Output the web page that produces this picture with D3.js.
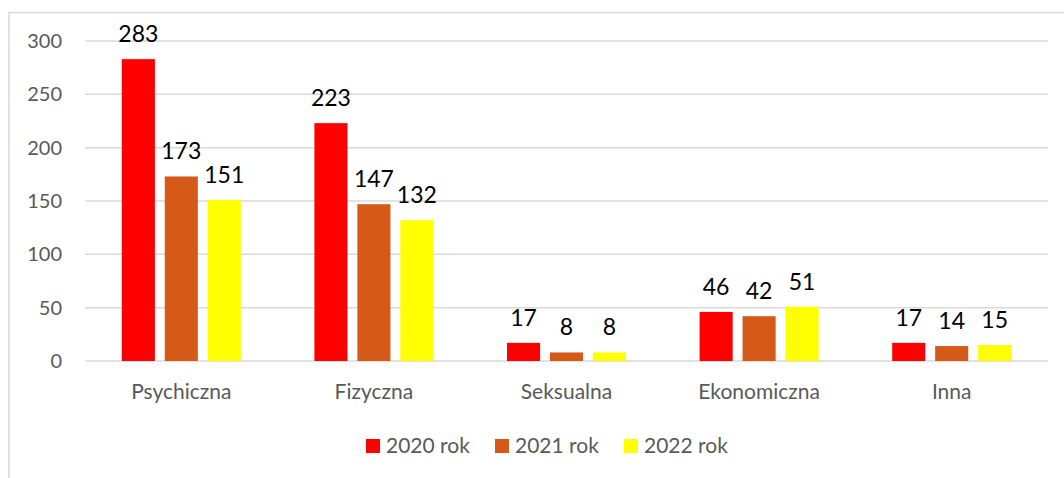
<!DOCTYPE html>
<html>
<head>
<meta charset="utf-8">
<script src="https://cdn.jsdelivr.net/npm/d3@7"></script>
<style>
  body { margin: 0; background: #fff; }
  svg { display: block; font-family: Lato, "Open Sans", sans-serif; }
</style>
</head>
<body>
<svg id="chart"></svg>
<script>
var categories = ["Psychiczna", "Fizyczna", "Seksualna", "Ekonomiczna", "Inna"];
var seriesNames = ["2020 rok", "2021 rok", "2022 rok"];
var seriesColors = ["#FF0000", "#D55A18", "#FFFF00"];
var values2020 = [283, 223, 17, 46, 17];
var values2021 = [173, 147, 8, 42, 14];
var values2022 = [151, 132, 8, 51, 15];
var yTicks = [0, 50, 100, 150, 200, 250, 300];

var width = 1064, height = 478;
var plot = {left: 85, right: 1048, top: 41, bottom: 361};

var svg = d3.select("#chart").attr("width", width).attr("height", height);

// outer chart frame (goes past the picture on right and bottom)
svg.append("rect")
  .attr("x", 9).attr("y", 12.5)
  .attr("width", 1200).attr("height", 600)
  .attr("fill", "none").attr("stroke", "#D9D9D9").attr("stroke-width", 1.5);

var y = d3.scaleLinear().domain([0, 300]).range([plot.bottom, plot.top]);

var x0 = d3.scaleBand().domain(categories).range([plot.left, plot.right]).padding(0);
var gap = x0.bandwidth() - 119;
var x1 = d3.scaleBand().domain(seriesNames)
  .range([gap / 2, x0.bandwidth() - gap / 2]).paddingInner(0.23);

// gridlines
svg.append("g").selectAll("line").data(yTicks).join("line")
  .attr("x1", plot.left).attr("x2", plot.right)
  .attr("y1", d => y(d)).attr("y2", d => y(d))
  .attr("stroke", "#D9D9D9").attr("stroke-width", 1.5);

// y axis labels
svg.append("g").selectAll("text").data(yTicks).join("text")
  .attr("x", 62).attr("y", d => y(d) + 7)
  .attr("text-anchor", "end")
  .attr("fill", "#595959").attr("font-size", 20)
  .text(d => d);

var rows = categories.map(function(c, i) {
  return {cat: c, vals: [values2020[i], values2021[i], values2022[i]]};
});

var groups = svg.append("g").selectAll("g").data(rows).join("g")
  .attr("transform", d => "translate(" + x0(d.cat) + ",0)");

groups.selectAll("rect").data(d => d.vals.map((v, k) => ({v: v, k: k}))).join("rect")
  .attr("x", d => x1(seriesNames[d.k]))
  .attr("y", d => y(d.v))
  .attr("width", x1.bandwidth())
  .attr("height", d => plot.bottom - y(d.v))
  .attr("fill", d => seriesColors[d.k]);

groups.selectAll("text").data(d => d.vals.map((v, k) => ({v: v, k: k}))).join("text")
  .attr("x", d => x1(seriesNames[d.k]) + x1.bandwidth() / 2)
  .attr("y", d => y(d.v) - 17)
  .attr("text-anchor", "middle")
  .attr("fill", "#000").attr("font-size", 23)
  .text(d => d.v);

// category labels
svg.append("g").selectAll("text").data(categories).join("text")
  .attr("x", d => x0(d) + x0.bandwidth() / 2)
  .attr("y", 399)
  .attr("text-anchor", "middle")
  .attr("fill", "#595959").attr("font-size", 21)
  .text(d => d);

// legend
var legendX = [366, 495, 624];
var legend = svg.append("g").selectAll("g").data(seriesNames).join("g")
  .attr("transform", (d, i) => "translate(" + legendX[i] + ",439)");
legend.append("rect")
  .attr("width", 14).attr("height", 14)
  .attr("fill", (d, i) => seriesColors[i]);
legend.append("text")
  .attr("x", 20).attr("y", 14)
  .attr("fill", "#595959").attr("font-size", 21)
  .text(d => d);
</script>
</body>
</html>
